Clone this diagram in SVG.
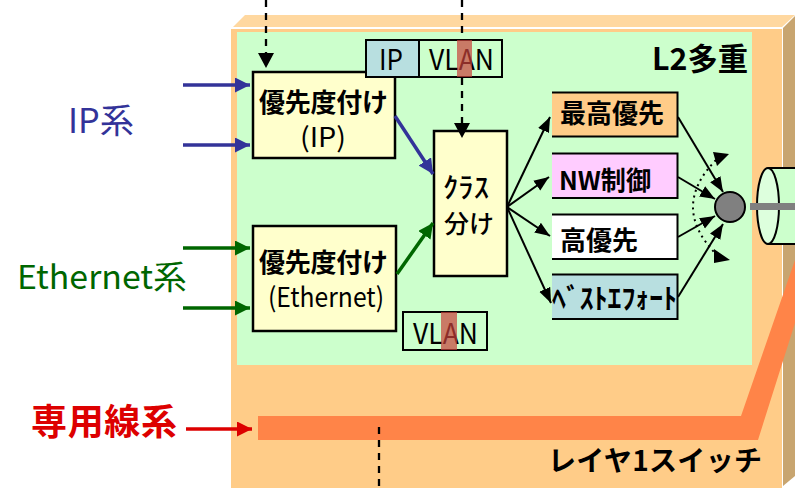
<svg xmlns="http://www.w3.org/2000/svg" width="795" height="490" viewBox="0 0 795 490">
<style>
text{font-family:"Noto Sans CJK JP","Noto Sans",sans-serif;fill:#000}
.b{font-weight:700}
.m{font-weight:500}
.box{fill:#ffffcc;stroke:#000;stroke-width:2.5}
.edge{fill:none;stroke:#000;stroke-width:2}
.tag{fill:none;stroke:#000;stroke-width:2}
.band{fill:#c8413a;fill-opacity:.7}
.dash{fill:none;stroke:#000;stroke-width:2.300;stroke-dasharray:7 6}
.dot{fill:none;stroke:#000;stroke-width:2;stroke-dasharray:2 4}
</style>
<defs>
<marker id="ab" markerUnits="userSpaceOnUse" markerWidth="16" markerHeight="16" refX="15" refY="7.5" orient="auto"><path d="M0 0L15 7.5L0 15z" fill="#333399"/></marker>
<marker id="ag" markerUnits="userSpaceOnUse" markerWidth="16" markerHeight="16" refX="15" refY="7.5" orient="auto"><path d="M0 0L15 7.5L0 15z" fill="#006600"/></marker>
<marker id="ar" markerUnits="userSpaceOnUse" markerWidth="16" markerHeight="16" refX="15" refY="7.5" orient="auto"><path d="M0 0L15 7.5L0 15z" fill="#dd0000"/></marker>
<marker id="ak" markerUnits="userSpaceOnUse" markerWidth="16" markerHeight="16" refX="15" refY="7.500" orient="auto"><path d="M0 1.500L15 7.500L0 13.500z" fill="#000"/></marker>
</defs>
<g id="switch">
<path d="M233 27L245 15H795L782 27z" fill="#ffd8a0"/>
<path d="M783 28L795 16V476L783 486z" fill="#c8a570"/>
<rect x="231" y="29" width="551" height="459" fill="#ffcc88"/>
<rect x="237" y="32" width="515" height="333" fill="#ccffcc"/>
</g>
<g id="dedicated-path"><path d="M258 416H741L795 260V323L758 440H258z" fill="#ff8448"/></g>
<g id="dashes">
<path class="dash" d="M266 0V54"/>
<path class="dash" d="M462 0V124"/>
<path class="dash" d="M379 427V490"/>
</g>
<g id="prio-ip">
<rect class="box" x="253" y="72" width="142" height="86"/>
<text class="b" x="259" y="112" font-size="26" textLength="129">優先度付け</text>
<text x="323" y="147" font-size="27" text-anchor="middle" textLength="46" lengthAdjust="spacingAndGlyphs">(IP)</text>
</g>
<g id="prio-eth">
<rect class="box" x="253" y="226" width="143" height="105"/>
<text class="b" x="259" y="272" font-size="26" textLength="129">優先度付け</text>
<text x="326" y="307" font-size="27" text-anchor="middle" textLength="116" lengthAdjust="spacingAndGlyphs">(Ethernet)</text>
</g>
<g id="tag-ip-vlan">
<rect x="366" y="40" width="53" height="37" fill="#b8dfe0" stroke="#000" stroke-width="2"/>
<rect x="419" y="40" width="83" height="37" fill="#ccffcc" stroke="#000" stroke-width="2"/>
<text x="379" y="70" font-size="29" textLength="24" lengthAdjust="spacingAndGlyphs">IP</text>
<text x="429" y="70" font-size="29" textLength="65" lengthAdjust="spacingAndGlyphs">VLAN</text>
<rect class="band" x="457" y="40" width="15" height="37"/>
</g>
<g id="class-box">
<rect class="box" x="434" y="131" width="73" height="145"/>
<text class="m" x="443" y="198" font-size="28" textLength="46" lengthAdjust="spacingAndGlyphs">ｸﾗｽ</text>
<text class="m" x="444" y="233" font-size="25" textLength="50">分け</text>
</g>
<g id="tag-vlan">
<rect class="tag" x="403" y="312" width="84" height="38"/>
<text x="413" y="344" font-size="29" textLength="65" lengthAdjust="spacingAndGlyphs">VLAN</text>
<rect class="band" x="441" y="312" width="16" height="38"/>
</g>
<g id="q1">
<rect x="552" y="92" width="125" height="44" fill="#ffcc88"/><path class="edge" d="M552 92.500H677.500V136.500H552"/>
<text class="b" x="560" y="123" font-size="26" textLength="104">最高優先</text>
</g>
<g id="q2">
<rect x="552" y="153" width="125" height="45" fill="#ffccff"/><path class="edge" d="M552 153.500H677.500V198H552"/>
<text class="b" x="559" y="190" font-size="26" textLength="92" lengthAdjust="spacingAndGlyphs">NW制御</text>
</g>
<g id="q3">
<rect x="552" y="214" width="125" height="45" fill="#fff"/><path class="edge" d="M552 214.500H677.500V259H552"/>
<text class="b" x="560" y="250" font-size="26" textLength="78">高優先</text>
</g>
<g id="q4">
<rect x="552" y="274" width="125" height="45" fill="#b8dfe0"/><path class="edge" d="M552 274.500H677.500V319H552"/>
<text class="b" x="552" y="309" font-size="28" textLength="125" lengthAdjust="spacingAndGlyphs">ﾍﾞｽﾄｴﾌｫｰﾄ</text>
</g>
<g id="cylinder">
<path d="M768 168H795V244H768z" fill="#ccffcc"/>
<path d="M768 168H795M768 244H795" stroke="#000" stroke-width="2" fill="none"/>
<ellipse cx="768" cy="206" rx="11" ry="38" fill="#ddffdd" stroke="#000" stroke-width="2"/>
<rect x="750" y="203" width="45" height="7" fill="#808080"/>
</g>
<g id="connectors">
<path d="M183 85H250" stroke="#333399" stroke-width="3.500" fill="none" marker-end="url(#ab)"/>
<path d="M183 145H250" stroke="#333399" stroke-width="3.500" fill="none" marker-end="url(#ab)"/>
<path d="M395 116L433 174" stroke="#333399" stroke-width="3.500" fill="none" marker-end="url(#ab)"/>
<path d="M183 248H250" stroke="#006600" stroke-width="3.500" fill="none" marker-end="url(#ag)"/>
<path d="M183 308H250" stroke="#006600" stroke-width="3.500" fill="none" marker-end="url(#ag)"/>
<path d="M397 274L433 223" stroke="#006600" stroke-width="3.500" fill="none" marker-end="url(#ag)"/>
<path d="M186 429H252" stroke="#dd0000" stroke-width="3.500" fill="none" marker-end="url(#ar)"/>
<path class="edge" d="M507 207L550 117" marker-end="url(#ak)"/>
<path class="edge" d="M507 207L549 177" marker-end="url(#ak)"/>
<path class="edge" d="M507 207L550 236" marker-end="url(#ak)"/>
<path class="edge" d="M507 207L551 303" marker-end="url(#ak)"/>
<path class="edge" d="M678 117L723 192" marker-end="url(#ak)"/>
<path class="edge" d="M678 177L715 199" marker-end="url(#ak)"/>
<path class="edge" d="M678 237L715 216" marker-end="url(#ak)"/>
<path class="edge" d="M678 297L723 224" marker-end="url(#ak)"/>
<path class="dot" d="M716 160Q670 207 716 254"/>
<path d="M729 154L713 152L717 166z M730 260L714 249L714 263z" fill="#000"/>
<path d="M258 53H274L266 68z M454 123H470L462 138z" fill="#000"/>
</g>
<g id="node-point"><circle cx="730" cy="207" r="15" fill="#808080" stroke="#000" stroke-width="2"/></g>
<g id="labels">
<text x="68" y="133" font-size="34" style="fill:#333399" textLength="66" lengthAdjust="spacingAndGlyphs">IP系</text>
<text x="17" y="289" font-size="33" style="fill:#006600" textLength="170" lengthAdjust="spacingAndGlyphs">Ethernet系</text>
<text class="b" x="31" y="435" font-size="36" style="fill:#dd0000" textLength="146">専用線系</text>
<text class="b" x="652" y="70" font-size="31" textLength="96" lengthAdjust="spacingAndGlyphs">L2多重</text>
<text class="b" x="548" y="471" font-size="28" textLength="214">レイヤ1スイッチ</text>
</g>
</svg>
